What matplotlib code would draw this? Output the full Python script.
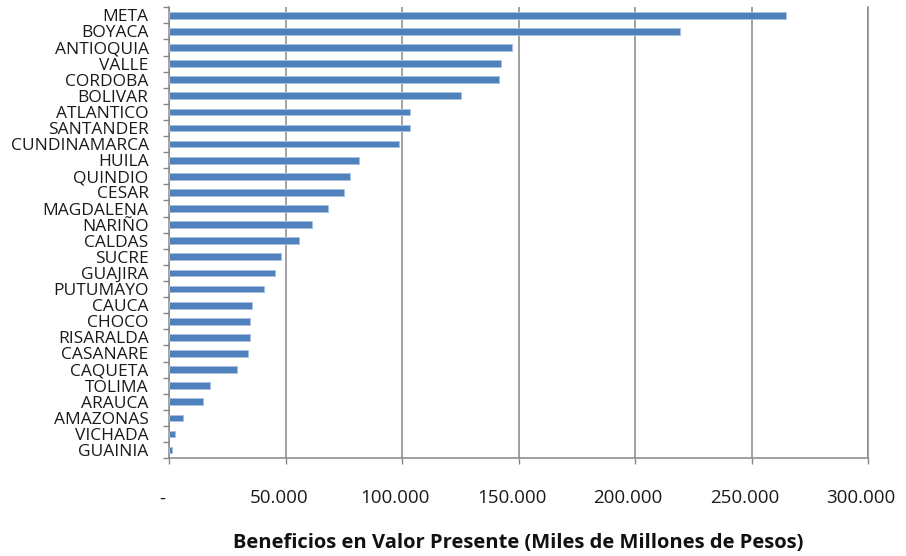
import matplotlib

matplotlib.use("Agg")
import matplotlib.pyplot as plt
import matplotlib.ticker as ticker
from matplotlib.transforms import ScaledTranslation
import numpy as np

DEPARTAMENTOS = [
    "META", "BOYACA", "ANTIOQUIA", "VALLE", "CORDOBA", "BOLIVAR",
    "ATLANTICO", "SANTANDER", "CUNDINAMARCA", "HUILA", "QUINDIO", "CESAR",
    "MAGDALENA", "NARIÑO", "CALDAS", "SUCRE", "GUAJIRA", "PUTUMAYO",
    "CAUCA", "CHOCO", "RISARALDA", "CASANARE", "CAQUETA", "TOLIMA",
    "ARAUCA", "AMAZONAS", "VICHADA", "GUAINIA",
]
BENEFICIOS = [
    264700, 219400, 147000, 142300, 141500, 125100,
    103300, 103300, 98500, 81300, 77400, 75100,
    68100, 61100, 55500, 47800, 45500, 40700,
    35300, 34600, 34600, 33700, 29000, 17400,
    14300, 5700, 2500, 900,
]
X_TICKS = [0, 50000, 100000, 150000, 200000, 250000, 300000]
X_TICK_LABELS = ["-", "50.000", "100.000", "150.000", "200.000", "250.000", "300.000"]

GRID_GRAY = "#878787"
BAR_BLUE = "#4F81BD"
FONT = ["Open Sans", "DejaVu Sans"]

fig = plt.figure(figsize=(9.06, 5.56), dpi=100)
ax = fig.add_axes([0.187, 0.176, 0.771, 0.811])

y = np.arange(len(DEPARTAMENTOS))
ax.barh(y, BENEFICIOS, height=0.42, color=BAR_BLUE,
        edgecolor="#A9C1DF", linewidth=0.6, zorder=3)

ax.set_ylim(len(DEPARTAMENTOS) - 0.5, -0.5)
ax.set_xlim(0, 300000)

# category labels at bar centres, tick marks at the boundaries
ax.set_yticks(y)
ax.set_yticklabels(DEPARTAMENTOS, fontsize=12.5, family=FONT, color="#1a1a1a")
ax.yaxis.set_minor_locator(ticker.FixedLocator(np.arange(-0.5, len(DEPARTAMENTOS), 1)))
ax.tick_params(axis="y", which="major", length=0, pad=15)
ax.tick_params(axis="y", which="minor", length=4.5, width=1.0, color=GRID_GRAY)

ax.set_xticks(X_TICKS)
ax.set_xticklabels(X_TICK_LABELS, fontsize=13.5, family=FONT, color="#1a1a1a")
ax.tick_params(axis="x", length=4.5, width=1.0, color=GRID_GRAY, pad=18)
shift = ScaledTranslation(-7 / 100, 0, fig.dpi_scale_trans)
for lbl in ax.get_xticklabels():
    lbl.set_transform(lbl.get_transform() + shift)

ax.grid(True, axis="x", color=GRID_GRAY, linewidth=1.1, zorder=0)
ax.set_axisbelow(True)

ax.spines["top"].set_visible(False)
for side in ("left", "bottom", "right"):
    ax.spines[side].set_color(GRID_GRAY)
    ax.spines[side].set_linewidth(1.1)

ax.set_xlabel("Beneficios en Valor Presente (Miles de Millones de Pesos)",
              fontsize=14.5, fontweight="bold", family=FONT, color="#111111")
ax.xaxis.set_label_coords(0.5, -0.165)

fig.savefig("out.png", dpi=100)
